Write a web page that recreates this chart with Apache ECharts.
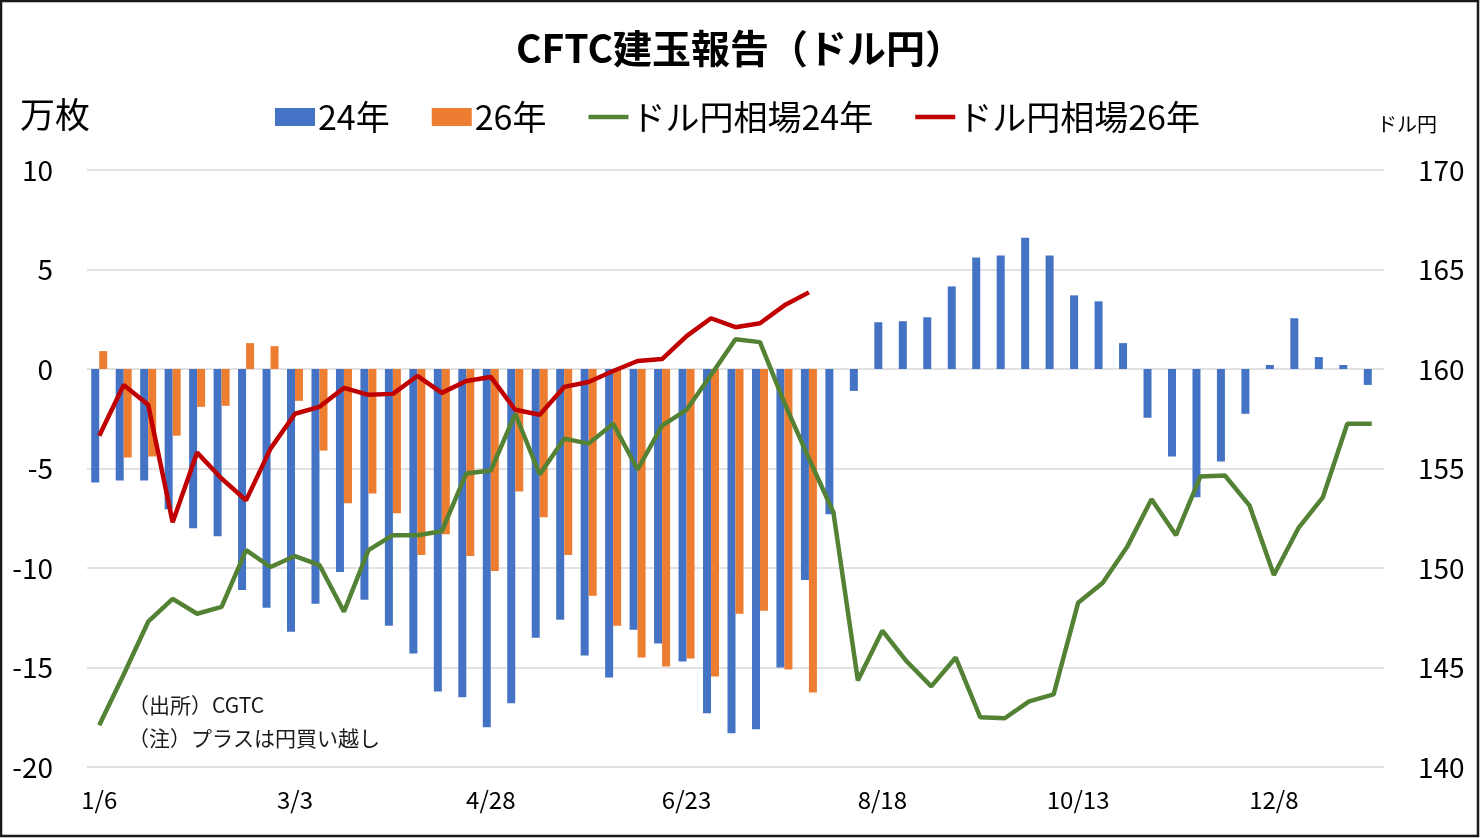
<!DOCTYPE html>
<html>
<head>
<meta charset="utf-8">
<title>CFTC建玉報告（ドル円）</title>
<script src="https://cdn.jsdelivr.net/npm/echarts@6.0.0/dist/echarts.min.js"></script>
<style>
  html, body { margin: 0; padding: 0; background: #fff; }
  #chart { width: 1480px; height: 838px; }
</style>
</head>
<body>
<div id="chart"></div>
<script>
// weekly dates (first week 1/6)
var weeks = ['1/6', '1/13', '1/20', '1/27', '2/3', '2/10', '2/17', '2/24', '3/3', '3/10',
    '3/17', '3/24', '3/31', '4/7', '4/14', '4/21', '4/28', '5/5', '5/12', '5/19',
    '5/26', '6/2', '6/9', '6/16', '6/23', '6/30', '7/7', '7/14', '7/21', '7/28',
    '8/4', '8/11', '8/18', '8/25', '9/1', '9/8', '9/15', '9/22', '9/29', '10/6',
    '10/13', '10/20', '10/27', '11/3', '11/10', '11/17', '11/24', '12/1', '12/8', '12/15',
    '12/22', '12/29', '1/5'];

// 円のネットポジション（万枚）
var position24 = [-5.7, -5.6, -5.6, -7.05, -8.0, -8.4, -11.1, -12.0, -13.2, -11.8,
    -10.2, -11.6, -12.9, -14.3, -16.2, -16.5, -18.0, -16.8, -13.5, -12.6,
    -14.4, -15.5, -13.1, -13.8, -14.7, -17.3, -18.3, -18.1, -15.0, -10.6,
    -7.3, -1.1, 2.35, 2.4, 2.6, 4.15, 5.6, 5.7, 6.6, 5.7,
    3.7, 3.4, 1.3, -2.45, -4.4, -6.45, -4.65, -2.25, 0.2, 2.55,
    0.6, 0.2, -0.8];
var position26 = [0.9, -4.45, -4.4, -3.35, -1.9, -1.85, 1.3, 1.15, -1.6, -4.1,
    -6.75, -6.25, -7.25, -9.35, -8.3, -9.4, -10.15, -6.15, -7.45, -9.35,
    -11.4, -12.9, -14.5, -14.95, -14.55, -15.45, -12.3, -12.15, -15.1, -16.25];

// ドル円相場
var usdjpy24 = [142.1, 144.65, 147.3, 148.45, 147.7, 148.05, 150.9, 150.05, 150.6, 150.15,
    147.8, 150.9, 151.65, 151.65, 151.85, 154.75, 154.9, 157.75, 154.7, 156.5,
    156.25, 157.25, 154.95, 157.15, 157.95, 159.7, 161.5, 161.35, 158.3, 155.5,
    152.8, 144.35, 146.85, 145.3, 144.05, 145.5, 142.5, 142.45, 143.3, 143.65,
    148.25, 149.25, 151.05, 153.45, 151.65, 154.6, 154.65, 153.15, 149.65, 152.0,
    153.55, 157.25, 157.25];
var usdjpy26 = [156.65, 159.2, 158.2, 152.3, 155.8, 154.5, 153.4, 156.0, 157.75, 158.1,
    159.05, 158.7, 158.75, 159.65, 158.8, 159.4, 159.6, 157.95, 157.7, 159.1,
    159.35, 159.9, 160.4, 160.5, 161.65, 162.55, 162.1, 162.3, 163.2, 163.85];

var FONT = 'Noto Sans CJK JP';
var lineIcon = 'path://M0,0 L44,0 L44,5 L0,5 Z';

var chart = echarts.init(document.getElementById('chart'));

var option = {
    backgroundColor: '#fff',
    animation: false,
    textStyle: {fontFamily: FONT, color: '#000'},
    title: {
        text: 'CFTC建玉報告（ドル円）', left: 'center', top: 24,
        textStyle: {fontFamily: FONT, fontSize: 39, fontWeight: 'bold', color: '#000'}
    },
    legend: {
        top: 95, left: 270, itemWidth: 40, itemHeight: 18, itemGap: 42,
        textStyle: {fontFamily: FONT, fontSize: 34, color: '#000', padding: [0, 0, 0, -2]},
        data: [
            {name: '24年', icon: 'rect'},
            {name: '26年', icon: 'rect'},
            {name: 'ドル円相場24年', icon: lineIcon},
            {name: 'ドル円相場26年', icon: lineIcon}
        ]
    },
    grid: {left: 87, right: 96, top: 170, bottom: 71},
    xAxis: {
        type: 'category', data: weeks, boundaryGap: true,
        axisLine: {show: false}, axisTick: {show: false},
        axisLabel: {interval: 7, margin: 21, fontSize: 24, color: '#000', fontFamily: FONT}
    },
    yAxis: [
        {
            type: 'value', min: -20, max: 10, interval: 5,
            axisLine: {show: false}, axisTick: {show: false},
            axisLabel: {margin: 34, fontSize: 28, color: '#000', fontFamily: FONT},
            splitLine: {lineStyle: {color: '#d9d9d9', width: 1.5}}
        },
        {
            type: 'value', min: 140, max: 170, interval: 5,
            axisLine: {show: false}, axisTick: {show: false},
            axisLabel: {margin: 34, fontSize: 28, color: '#000', fontFamily: FONT},
            splitLine: {show: false}
        }
    ],
    series: [
        {name: '24年', type: 'bar', data: position24, barWidth: 8, barGap: '0%',
            itemStyle: {color: '#4472c4'}},
        {name: '26年', type: 'bar', data: position26, barWidth: 8, barGap: '0%',
            itemStyle: {color: '#ed7d31'}},
        {name: 'ドル円相場24年', type: 'line', yAxisIndex: 1, data: usdjpy24,
            symbol: 'none', lineStyle: {color: '#548235', width: 4.5}, itemStyle: {color: '#548235'}},
        {name: 'ドル円相場26年', type: 'line', yAxisIndex: 1, data: usdjpy26,
            symbol: 'none', lineStyle: {color: '#c00000', width: 4.5}, itemStyle: {color: '#c00000'}}
    ],
    graphic: [
        {type: 'rect', silent: true, z: 100,
            shape: {x: 1, y: 1, width: 1477, height: 835},
            style: {fill: null, stroke: '#1a1a1a', lineWidth: 2.5}},
        {type: 'text', left: 20, top: 97,
            style: {text: '万枚', fontFamily: FONT, fontSize: 35, fill: '#000'}},
        {type: 'text', left: 1377, top: 114,
            style: {text: 'ドル円', fontFamily: FONT, fontSize: 20, fill: '#000'}},
        {type: 'text', left: 128, top: 695,
            style: {text: '（出所）CGTC', fontFamily: FONT, fontSize: 21, fill: '#1a1a1a'}},
        {type: 'text', left: 128, top: 728,
            style: {text: '（注）プラスは円買い越し', fontFamily: FONT, fontSize: 21, fill: '#1a1a1a'}}
    ]
};

chart.setOption(option);
</script>
</body>
</html>
